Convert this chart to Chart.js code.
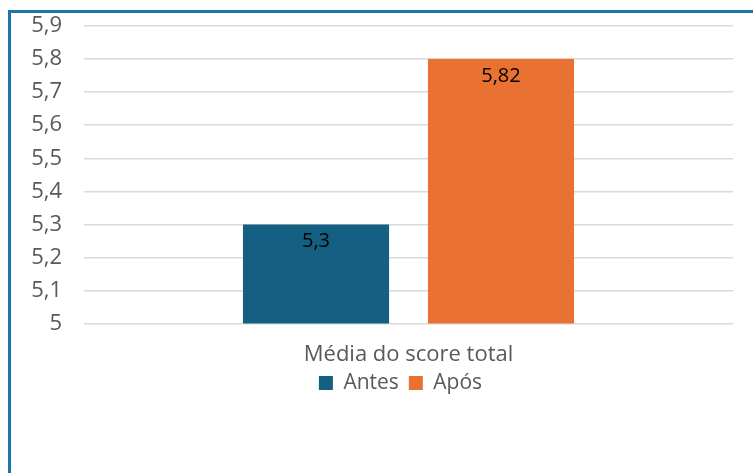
<!DOCTYPE html>
<html>
<head>
<meta charset="utf-8">
<script src="https://cdn.jsdelivr.net/npm/chart.js@4"></script>
<style>
  html, body { margin: 0; padding: 0; background: #fff; }
  #wrap { position: relative; width: 753px; height: 473px; overflow: hidden; }
  #frame { position: absolute; left: 8px; top: 10px; width: 800px; height: 520px; border: 3px solid #1B75A6; }
  canvas { position: absolute; left: 0; top: 0; }
</style>
</head>
<body>
<div id="wrap">
  <div id="frame"></div>
  <canvas id="chart" width="753" height="473"></canvas>
</div>
<script>
const categories = ['Média do score total'];
const seriesNames = ['Antes', 'Após'];
const antes = [5.3];
const apos = [5.8];
const valueLabels = ['5,3', '5,82'];
const colors = ['#156082', '#E97132'];

const fontFamily = '"Open Sans", "Noto Sans", sans-serif';

// draw the value text inside the top of each bar
const barLabels = {
  id: 'barLabels',
  afterDatasetsDraw(chart) {
    const ctx = chart.ctx;
    ctx.save();
    ctx.font = '20px ' + fontFamily;
    ctx.fillStyle = '#000';
    ctx.textAlign = 'center';
    ctx.textBaseline = 'middle';
    chart.data.datasets.forEach((ds, i) => {
      const meta = chart.getDatasetMeta(i);
      meta.data.forEach(bar => {
        ctx.fillText(valueLabels[i], bar.x, bar.y + 17);
      });
    });
    ctx.restore();
  }
};

// excel puts the legend a bit right of center and close under the axis label
const legendShift = {
  id: 'legendShift',
  afterLayout(chart) {
    const lg = chart.legend;
    const h = lg.bottom - lg.top;
    lg.left += 34;
    lg.right += 34;
    lg.top = 383 - h / 2;
    lg.bottom = lg.top + h;
  }
};

new Chart(document.getElementById('chart'), {
  type: 'bar',
  data: {
    labels: categories,
    datasets: [
      { label: seriesNames[0], data: antes, backgroundColor: colors[0] },
      { label: seriesNames[1], data: apos, backgroundColor: colors[1] }
    ]
  },
  options: {
    responsive: false,
    animation: false,
    layout: { padding: { top: 26, right: 20, bottom: 46, left: 0 } },
    datasets: { bar: { categoryPercentage: 0.57, barPercentage: 0.79 } },
    plugins: {
      legend: {
        position: 'bottom',
        labels: {
          boxWidth: 14, boxHeight: 14, padding: 10,
          color: '#595959',
          font: { family: fontFamily, size: 21 }
        }
      },
      tooltip: { enabled: false }
    },
    scales: {
      x: {
        grid: { display: false, drawTicks: false },
        border: { display: false },
        ticks: { color: '#595959', padding: 18, font: { family: fontFamily, size: 22 } }
      },
      y: {
        min: 5, max: 5.9,
        afterFit(axis) { axis.width = 84; axis.paddingTop = 0; axis.paddingBottom = 0; },
        grid: { color: '#D9D9D9', lineWidth: 1.5, drawTicks: false },
        border: { display: false },
        ticks: {
          stepSize: 0.1,
          padding: 22,
          color: '#595959',
          font: { family: fontFamily, size: 22 },
          callback: v => String(Math.round(v * 10) / 10).replace('.', ',')
        }
      }
    }
  },
  plugins: [barLabels, legendShift]
});
</script>
</body>
</html>
